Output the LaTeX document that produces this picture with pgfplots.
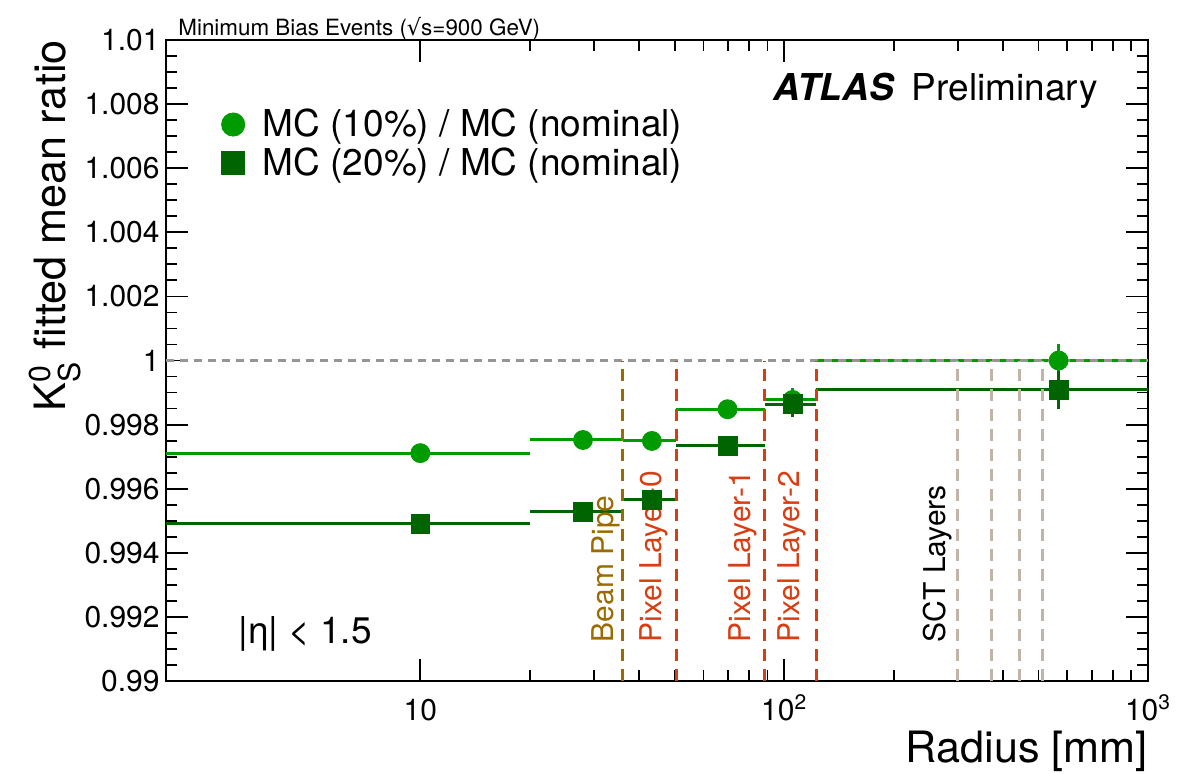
\documentclass[border=0pt]{standalone}
\usepackage{amsmath}
\usepackage{fontspec}
\setmainfont{TeX Gyre Heros}
\newfontfamily\dejavu{DejaVu Sans}
\usepackage{pgfplots}
\pgfplotsset{compat=1.18}
\definecolor{sone}{RGB}{0,155,0}
\definecolor{stwo}{RGB}{0,100,0}
\definecolor{beam}{RGB}{156,107,0}
\definecolor{pix}{RGB}{216,62,18}
\definecolor{sct}{RGB}{192,180,166}
\definecolor{refgrey}{RGB}{150,150,150}
\begin{document}
\begin{tikzpicture}
\path[use as bounding box] (-83pt,-46pt) rectangle (511pt,340.5pt);
\begin{axis}[
  at={(0,0)}, anchor=south west,
  scale only axis, width=491pt, height=320.5pt,
  xmode=log, xmin=2, xmax=1000, ymin=0.99, ymax=1.01,
  clip=false,
  axis line style={line width=1pt},
  tick align=inside,
  major tick length=11pt, minor tick length=5.5pt,
  every tick/.style={black, line width=0.9pt},
  xtick={10,100,1000},
  xticklabels={10,10\textsuperscript{2},10\textsuperscript{3}},
  ytick={0.99,0.992,0.994,0.996,0.998,1,1.002,1.004,1.006,1.008,1.01},
  yticklabels={0.99,0.992,0.994,0.996,0.998,1,1.002,1.004,1.006,1.008,1.01},
  minor y tick num=3,
  ticklabel style={font=\fontsize{15}{18}\selectfont},
  xticklabel style={anchor=base, yshift=-19.5pt},
  yticklabel style={inner sep=0pt, xshift=-3pt},
  xlabel={Radius [mm]},
  xlabel style={font=\fontsize{21.6}{26}\selectfont, at={(axis description cs:1,-0.1264)}, anchor=base east, inner sep=0pt},
  ylabel={K$^{\text{0}}_{\text{S}}$ fitted mean ratio},
  ylabel style={font=\fontsize{21.6}{26}\selectfont, at={(axis description cs:-0.0866,1)}, anchor=south east, inner sep=0pt},
  legend style={at={(axis description cs:0.0562,0.838)}, anchor=west, draw=none, fill=none,
    font=\fontsize{18.5}{22}\selectfont, inner sep=0pt, row sep=0pt, column sep=7pt},
  legend image post style={mark size=5.8pt},
  legend cell align=left,
]
% bin lines
\addplot[sone, line width=1.5pt, forget plot, unbounded coords=jump] coordinates {
  (2,0.99711)(20,0.99711) (20,nan)
  (20,0.99752)(36,0.99752) (36,nan)
  (36,0.99749)(50.5,0.99749) (50.5,nan)
  (50.5,0.99848)(88.5,0.99848) (88.5,nan)
  (88.5,0.99877)(122.5,0.99877) (122.5,nan)
  (122.5,1.00000)(1000,1.00000)
};
\addplot[stwo, line width=1.5pt, forget plot, unbounded coords=jump] coordinates {
  (2,0.99490)(20,0.99490) (20,nan)
  (20,0.99528)(36,0.99528) (36,nan)
  (36,0.99565)(50.5,0.99565) (50.5,nan)
  (50.5,0.99734)(88.5,0.99734) (88.5,nan)
  (88.5,0.99864)(122.5,0.99864) (122.5,nan)
  (122.5,0.99908)(1000,0.99908)
};
% markers
\addplot[only marks, mark=*, mark size=4.75pt, color=sone,
  error bars/.cd, y dir=both, y explicit, error bar style={line width=1.5pt}, error mark=none]
  coordinates {
  (10,0.99711) +- (0,0.0002)
  (28,0.99752) +- (0,0.0002)
  (43.3,0.99749) +- (0,0.0002)
  (69.9,0.99848) +- (0,0.0002)
  (105.5,0.99877) +- (0,0.00037)
  (568,1.00000) +- (0,0.0005)
};
\addlegendentry{MC (10\%) / MC (nominal)}
\addplot[only marks, mark=square*, mark size=4.7pt, color=stwo,
  error bars/.cd, y dir=both, y explicit, error bar style={line width=1.5pt}, error mark=none]
  coordinates {
  (10,0.99490) +- (0,0.0002)
  (28,0.99528) +- (0,0.0002)
  (43.3,0.99565) +- (0,0.0002)
  (69.9,0.99734) +- (0,0.0002)
  (105.5,0.99864) +- (0,0.0004)
  (568,0.99908) +- (0,0.0006)
};
\addlegendentry{MC (20\%) / MC (nominal)}
% reference lines
\addplot[refgrey, line width=1.5pt, dash pattern=on 4pt off 3pt, forget plot] coordinates {(2,1)(1000,1)};
\addplot[beam, line width=1.5pt, dash pattern=on 6pt off 4pt, forget plot] coordinates {(36,0.99)(36,1)};
\addplot[pix, line width=1.5pt, dash pattern=on 6pt off 4pt, forget plot] coordinates {(50.5,0.99)(50.5,1)};
\addplot[pix, line width=1.5pt, dash pattern=on 6pt off 4pt, forget plot] coordinates {(88.5,0.99)(88.5,1)};
\addplot[pix, line width=1.5pt, dash pattern=on 6pt off 4pt, forget plot] coordinates {(122.5,0.99)(122.5,1)};
\addplot[sct, line width=1.5pt, dash pattern=on 6pt off 4pt, forget plot] coordinates {(299,0.99)(299,1)};
\addplot[sct, line width=1.5pt, dash pattern=on 6pt off 4pt, forget plot] coordinates {(371,0.99)(371,1)};
\addplot[sct, line width=1.5pt, dash pattern=on 6pt off 4pt, forget plot] coordinates {(443,0.99)(443,1)};
\addplot[sct, line width=1.5pt, dash pattern=on 6pt off 4pt, forget plot] coordinates {(514,0.99)(514,1)};
% labels
\node[rotate=90, anchor=south west, inner sep=0pt, text=beam, font=\fontsize{15}{18}\selectfont] at (axis cs:35.5,0.9912) {Beam Pipe};
\node[rotate=90, anchor=south west, inner sep=0pt, text=pix, font=\fontsize{15}{18}\selectfont] at (axis cs:48.0,0.9912) {Pixel Layer-0};
\node[rotate=90, anchor=south west, inner sep=0pt, text=pix, font=\fontsize{15}{18}\selectfont] at (axis cs:84.7,0.9912) {Pixel Layer-1};
\node[rotate=90, anchor=south west, inner sep=0pt, text=pix, font=\fontsize{15}{18}\selectfont] at (axis cs:115,0.9912) {Pixel Layer-2};
\node[rotate=90, anchor=south west, inner sep=0pt, text=black, font=\fontsize{15}{18}\selectfont] at (axis cs:289.7,0.9912) {SCT Layers};
\node[anchor=base west, inner sep=0pt, yshift=2.5pt, font=\fontsize{11.2}{13}\selectfont] at (axis description cs:0.0122,1) {Minimum Bias Events ({\dejavu √}s=900 GeV)};
\node[anchor=base east, inner sep=0pt, font=\fontsize{18.5}{22}\selectfont] at (axis description cs:0.949,0.906) {{\bfseries\itshape ATLAS}\hspace{9pt}Preliminary};
\node[anchor=base west, inner sep=0pt, font=\fontsize{18.5}{22}\selectfont] at (axis description cs:0.0733,0.0593) {|η| < 1.5};
\end{axis}
\end{tikzpicture}
\end{document}
